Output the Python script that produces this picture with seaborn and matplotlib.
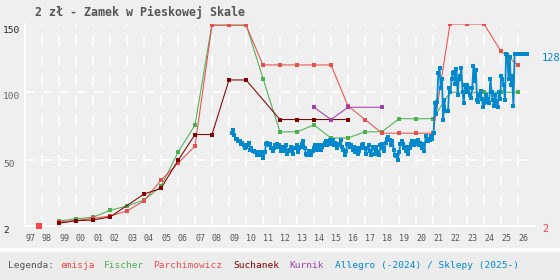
import matplotlib
matplotlib.use("Agg")
import numpy as np
import pandas as pd
import matplotlib.pyplot as plt
import seaborn as sns
from matplotlib.patches import Rectangle
from matplotlib.transforms import ScaledTranslation, blended_transform_factory

# ---------------- data ----------------
title = "2 zł - Zamek w Pieskowej Skale"

emisja_year = [1997.84]
emisja_val = [2]

fischer_years = list(range(1999, 2027))
fischer_vals = [5.7, 7.3, 8.4, 13.5, 16.6, 21, 31, 56, 76, 150, 150, 150, 110,
                71, 71, 76, 66.5, 66.5, 71, 71, 80.6, 80.6, 80.6, 100, 100, 100, 100, 100]

parch_years = list(range(1999, 2027))
parch_vals = [5, 6, 7.6, 9.3, 13, 20.5, 35.5, 48, 60.6, 149, 149, 149, 120,
              120, 120, 120, 120, 90, 80, 70, 70, 70, 70, 150, 150, 150, 130, 120]

such_years = [1999, 2000, 2001, 2002, 2004, 2005, 2006, 2007, 2008, 2009, 2010,
              2012, 2013, 2014, 2015, 2016]
such_vals = [4, 5.9, 6.4, 8.6, 25.4, 29.6, 50, 69, 69, 109, 109, 80, 80, 80, 80, 80]

kurnik_years = [2014, 2015, 2016, 2018]
kurnik_vals = [89, 80, 89, 89]

allegro_seg1 = [70, 72, 69, 66, 66, 64, 64, 62, 63, 61, 59, 60, 61, 63, 58, 59, 57, 57,
                56, 54, 56, 54, 56, 55, 52, 56, 62, 63, 61, 62, 59, 57, 59, 61, 62, 60,
                61, 57, 59, 60, 57, 61, 55, 57, 58, 60, 55, 59, 59, 61, 56, 59, 60, 62,
                64, 59, 55, 54, 57, 56, 54, 57, 59, 61, 58, 59, 61, 58, 60, 61, 63, 64,
                61, 62, 65, 62, 65, 61, 63, 59, 61, 62, 65, 60, 58, 54, 57, 62, 62, 60,
                61, 58, 60, 56, 59, 55, 57, 59, 61, 62, 59, 55, 59, 61, 57, 54, 60, 59,
                55, 60, 56, 54, 61, 62, 59, 57, 63, 66, 67, 65, 61, 64, 58, 54, 53, 50,
                56, 62, 64, 62, 59, 57, 60, 55, 59, 62, 64, 61, 64, 62, 65, 61, 63, 59,
                62, 57, 68, 66, 64, 65, 68, 66, 70]
allegro_seg2 = [92, 84, 93, 114, 118, 103, 110, 80, 94, 86, 86, 86, 103, 100, 110, 114,
                115, 106, 117, 98, 110, 112, 118, 100, 92, 105, 100, 105, 103, 98, 96,
                103, 119, 108, 116, 94, 93, 98, 101, 95, 89, 92, 98, 93, 95, 92, 110,
                100, 94, 90, 98, 93, 89, 100, 95, 112, 110, 105, 94, 128, 127, 110, 126,
                105, 112, 90, 128]
sklepy_vals = [128, 128, 128, 128, 128, 128, 128, 128, 128]

seg1_span = (2009.15, 2021.04)
seg2_span = (2021.10, 2025.80)
seg3_span = (2025.85, 2026.55)

allegro_t = np.concatenate([
    np.linspace(*seg1_span, len(allegro_seg1)),
    np.linspace(*seg2_span, len(allegro_seg2)),
    np.linspace(*seg3_span, len(sklepy_vals)),
])
allegro_vals = np.array(allegro_seg1 + allegro_seg2 + sklepy_vals, dtype=float)

x_ticks = list(range(1997, 2027))
x_labels = [f"{y % 100:02d}" for y in x_ticks]
y_ticks = [2, 50, 100, 150]
y_labels = ["2", "50", "100", "150"]

legend_items = [("Legenda:", "#555555", 8), ("emisja", "#ff4444", 60),
                ("Fischer", "#4cb050", 104), ("Parchimowicz", "#e85050", 153),
                ("Suchanek", "#800000", 233), ("Kurnik", "#a040a8", 289),
                ("Allegro (-2024) / Sklepy (2025-)", "#0088cc", 335)]

# ---------------- style ----------------
BG = "#efefef"
C_EMISJA = "#ff4444"
C_FISCHER = "#4cb050"
C_PARCH = "#e85050"
C_SUCH = "#800000"
C_KURNIK = "#a040a8"
C_ALLEGRO = "#0088cc"

sns.set_style("white")
plt.rcParams["font.family"] = ["DejaVu Sans Mono", "DejaVu Sans"]
plt.rcParams["lines.scale_dashes"] = False

W, H = 560, 280
fig = plt.figure(figsize=(5.6, 2.8), dpi=100, facecolor=BG)
fig.patches.append(Rectangle((0, 0), 1, 28 / H, transform=fig.transFigure,
                             facecolor="#ececec", edgecolor="none", zorder=0))
fig.patches.append(Rectangle((0, 28 / H), 1, 4 / H, transform=fig.transFigure,
                             facecolor="#fafafa", edgecolor="none", zorder=0))

ax = fig.add_axes([25 / W, 54 / H, 510 / W, 202 / H])
ax.set_facecolor(BG)
ax.set_xlim(1997, 2027)
ax.set_ylim(2, 150)

# grid
px = 0.72
ax.set_xticks(x_ticks)
ax.set_yticks(y_ticks)
ax.xaxis.grid(True, color="white", lw=1.1, ls=(0, (11 * px, 9 * px)))
ax.yaxis.grid(True, color="white", lw=1.1, ls=(16 * px, (9 * px, 8 * px)))
ax.yaxis.get_gridlines()[3].set_visible(False)
ax.yaxis.get_gridlines()[0].set_visible(False)
ax.set_axisbelow(True)
for s in ["top", "right"]:
    ax.spines[s].set_visible(False)
for s in ["left", "bottom"]:
    ax.spines[s].set_color("white")
    ax.spines[s].set_linewidth(1.5)

ax.tick_params(axis="both", length=0)
ax.set_xticklabels(x_labels, fontsize=6, color="#555555", ha="left")
ax.tick_params(axis="x", pad=6)
ax.set_yticklabels(y_labels, fontsize=6.8, ha="left")
ax.tick_params(axis="y", pad=15.8)
for lab, col in zip(ax.get_yticklabels(), ["#222222", "#666666", "#666666", "#222222"]):
    lab.set_color(col)
    dy = -4 / 72 if lab.get_text() == "150" else -2.5 / 72
    lab.set_transform(lab.get_transform() + ScaledTranslation(0, dy, fig.dpi_scale_trans))

# series
line_kw = dict(marker="s", markersize=2.3, markeredgewidth=0, linewidth=0.75, ax=ax)
sns.lineplot(x=fischer_years, y=fischer_vals, color=C_FISCHER, **line_kw)
sns.lineplot(x=parch_years, y=parch_vals, color=C_PARCH, **line_kw)
sns.lineplot(x=such_years, y=such_vals, color=C_SUCH, **line_kw)
sns.lineplot(x=kurnik_years, y=kurnik_vals, color=C_KURNIK, **line_kw)
sns.lineplot(x=allegro_t, y=allegro_vals, color=C_ALLEGRO, marker="s",
             markersize=2.7, markeredgewidth=0, linewidth=1.3, ax=ax)
sns.scatterplot(x=emisja_year, y=emisja_val, color=C_EMISJA, marker="s", s=17,
                linewidth=0, ax=ax, clip_on=False, zorder=5)
ax.set_xlabel("")
ax.set_ylabel("")

# right-side last value labels
tr = blended_transform_factory(ax.transAxes, ax.transData)
ax.text(1 + 7 / 510, allegro_vals[-1], f"{allegro_vals[-1]:.0f}", transform=tr,
        color=C_ALLEGRO, fontsize=7.5, va="center", ha="left",
        ).set_transform(tr + ScaledTranslation(0, -3 / 72, fig.dpi_scale_trans))
ax.text(1 + 7 / 510, emisja_val[-1], f"{emisja_val[-1]}", transform=tr,
        color="#ff4040", fontsize=7.5, va="center", ha="left"
        ).set_transform(tr + ScaledTranslation(0, -2 / 72, fig.dpi_scale_trans))

# title
fig.text(35 / W, 1 - 12 / H, title, fontsize=8.4, fontweight="bold",
         color="#555555", va="center", ha="left")

# legend
for txt, col, xpx in legend_items:
    fig.text(xpx / W, 14 / H, txt, fontsize=6.8, color=col, va="center", ha="left")

fig.savefig("out.png", dpi=100, facecolor=fig.get_facecolor())
